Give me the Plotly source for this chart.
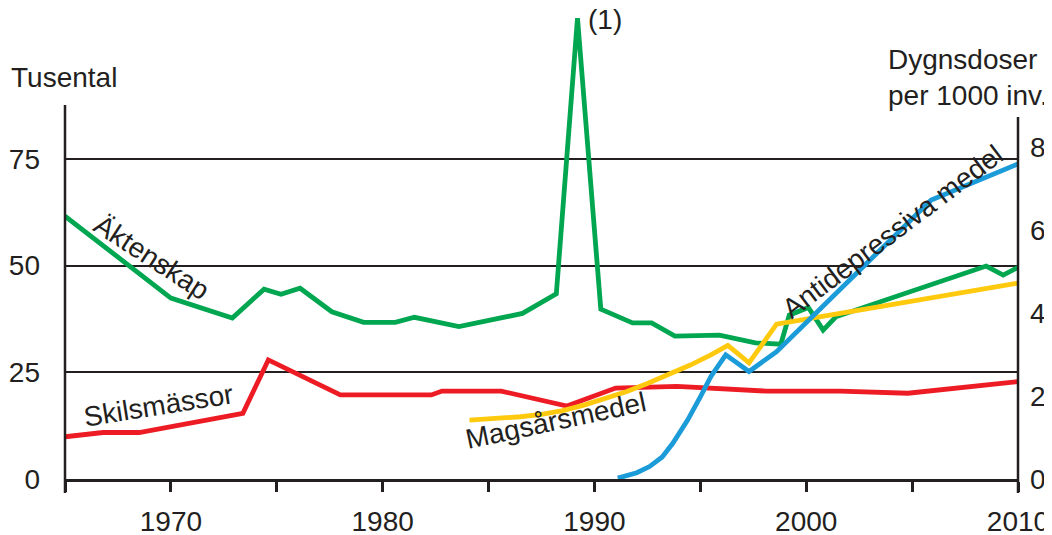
import plotly.graph_objects as go

# ---- data ----
marr_years = [1965.0, 1970.0, 1972.9, 1974.4, 1975.2, 1976.1, 1977.6, 1979.1, 1980.6, 1981.5,
              1983.6, 1986.6, 1988.2, 1989.2, 1990.3, 1991.8, 1992.7, 1993.8, 1995.9, 1997.6,
              1998.8, 1999.2, 2000.1, 2000.8, 2001.4, 2008.5, 2009.3, 2010.0]
marr_vals = [61.6, 42.4, 37.7, 44.5, 43.3, 44.7, 39.2, 36.7, 36.7, 37.9,
             35.7, 38.8, 43.4, 108.0, 39.8, 36.6, 36.6, 33.5, 33.7, 31.9,
             31.6, 38.4, 40.2, 34.9, 38.0, 49.9, 47.8, 49.6]

div_years = [1965.0, 1966.8, 1968.5, 1973.4, 1974.6, 1978.0, 1982.3, 1982.8, 1985.6, 1988.7,
             1991.0, 1993.9, 1998.1, 2001.6, 2004.8, 2010.0]
div_vals = [9.9, 10.9, 10.9, 15.4, 27.9, 19.7, 19.7, 20.6, 20.6, 17.1,
            21.3, 21.7, 20.6, 20.6, 20.1, 22.8]

ulcer_years = [1984.1, 1985.5, 1986.5, 1987.5, 1988.5, 1989.5, 1990.5, 1991.5, 1992.5, 1993.5,
               1994.5, 1995.5, 1996.3, 1997.3, 1998.6, 2001.6, 2010.0]
ulcer_vals = [14.2, 14.5, 15.0, 15.6, 16.5, 17.8, 19.3, 21.0, 23.0, 25.1,
              27.4, 29.9, 32.2, 28.0, 37.3, 39.9, 47.2]

ad_years = [1991.1, 1992.0, 1992.6, 1993.2, 1993.7, 1994.4, 1995.0, 1995.5, 1996.2, 1997.3,
            1998.6, 2005.9, 2010.0]
ad_vals = [0.2, 1.5, 3.0, 5.3, 8.6, 14.2, 19.8, 24.7, 29.9, 25.9,
           30.7, 67.2, 75.9]

x_tickvals = [1965, 1970, 1975, 1980, 1985, 1990, 1995, 2000, 2005, 2010]
x_ticktext = ["", "1970", "", "1980", "", "1990", "", "2000", "", "2010"]
left_ticks = [0, 25, 50, 75]
right_ticks = [0, 20, 40, 60, 80]

# ---- style ----
FONT = "Liberation Sans, Arial, Helvetica, sans-serif"
TXT = "#231f20"
GREEN = "#00a650"
RED = "#ed1c24"
YELLOW = "#ffc90e"
BLUE = "#1b9bd7"
FS = 28
LW = 4.8

fig = go.Figure()
fig.add_trace(go.Scatter(x=div_years, y=div_vals, mode="lines",
                         line=dict(color=RED, width=LW), yaxis="y"))
fig.add_trace(go.Scatter(x=marr_years, y=marr_vals, mode="lines",
                         line=dict(color=GREEN, width=LW), yaxis="y"))
fig.add_trace(go.Scatter(x=ulcer_years, y=ulcer_vals, mode="lines",
                         line=dict(color=YELLOW, width=LW), yaxis="y2"))
fig.add_trace(go.Scatter(x=ad_years, y=ad_vals, mode="lines",
                         line=dict(color=BLUE, width=LW), yaxis="y2"))

# the page body adds an 8px margin, so the figure is 8px smaller and shifted
OFF = 8
W, H = 1052 - OFF, 535 - OFF
ml, mr, mt, mb = 57, 34, 4, 56
plot_h = H - mt - mb
plot_w = W - ml - mr
left_max = plot_h / 4.267
right_max = plot_h / 4.15

def py(pix):
    # screen pixel y -> paper y
    return (H - mb - (pix - OFF)) / plot_h

def px(pix):
    # screen pixel x -> paper x
    return ((pix - OFF) - ml) / plot_w

fig.update_layout(
    width=W, height=H,
    margin=dict(l=ml, r=mr, t=mt, b=mb, pad=0, autoexpand=False),
    paper_bgcolor="white", plot_bgcolor="white",
    showlegend=False,
    font=dict(family=FONT, size=FS, color=TXT),
    xaxis=dict(range=[1965, 2010], tickvals=x_tickvals, ticktext=x_ticktext,
               showgrid=False, zeroline=False, showline=True, linecolor=TXT, linewidth=2.5,
               ticks="outside", ticklen=10, tickwidth=2.5, tickcolor=TXT,
               ticklabelstandoff=6, automargin=False,
               tickfont=dict(family=FONT, size=FS, color=TXT)),
    yaxis=dict(range=[0, left_max], tickvals=left_ticks, automargin=False,
               showgrid=True, gridcolor=TXT, gridwidth=2, zeroline=False,
               showline=False, ticks="", ticklabelstandoff=24,
               tickfont=dict(family=FONT, size=FS, color=TXT)),
    yaxis2=dict(range=[0, right_max], tickvals=right_ticks, overlaying="y", side="right",
                showgrid=False, zeroline=False, showline=False, ticks="", automargin=False,
                ticklabelstandoff=11,
                tickfont=dict(family=FONT, size=FS, color=TXT)),
)

# vertical axis lines extending beyond the plot like the reference
fig.add_shape(type="line", xref="paper", yref="paper", x0=0, x1=0, y0=py(493), y1=py(105),
              line=dict(color=TXT, width=2.5), layer="above")
fig.add_shape(type="line", xref="paper", yref="paper", x0=1, x1=1, y0=py(493), y1=py(117),
              line=dict(color=TXT, width=2.5), layer="above")

def lab(text, x, y, angle, **kw):
    fig.add_annotation(text=text, x=x, y=y, xref="x", yref="y", showarrow=False,
                       textangle=angle, font=dict(family=FONT, size=FS, color=TXT), **kw)

lab("Äktenskap", 1969.1, 51.8, 33)
lab("Skilsmässor", 1969.4, 17.3, -9)
lab("Magsårsmedel", 1988.2, 13.6, -12)
lab("Antidepressiva medel", 2004.1, 57.9, -37)
lab("(1)", 1989.6, 107.6, 0, xanchor="left")

fig.add_annotation(text="Tusental", x=px(9), y=py(77), xref="paper", yref="paper",
                   showarrow=False, xanchor="left", yanchor="middle",
                   font=dict(family=FONT, size=FS, color=TXT))

fig.add_annotation(text="Dygnsdoser<br>per 1000 inv.", x=px(886), y=py(77),
                   xref="paper", yref="paper", showarrow=False, xanchor="left",
                   yanchor="middle", align="left",
                   font=dict(family=FONT, size=FS, color=TXT))

fig.write_html("out.html")
